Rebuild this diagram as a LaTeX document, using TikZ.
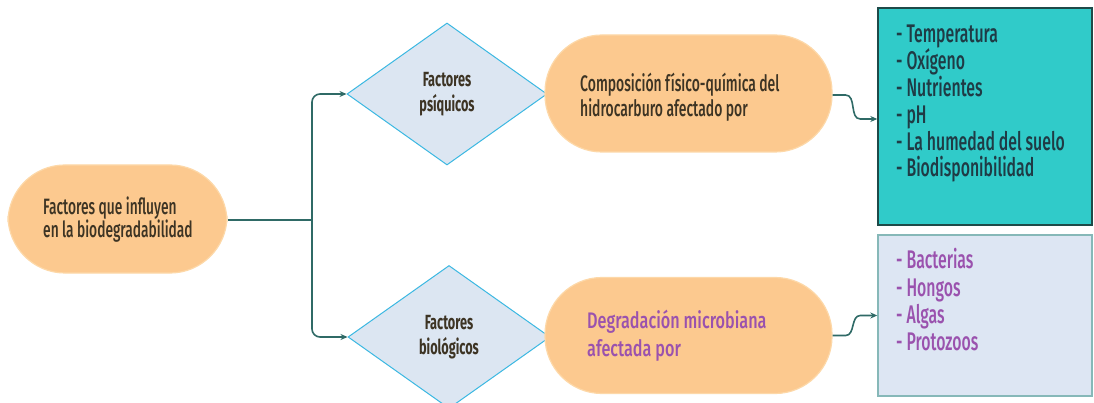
\documentclass[tikz,border=0pt]{standalone}
\usepackage{fontspec}
\setmainfont{Fira Sans}[FakeStretch=0.62, UprightFont={* Medium}, BoldFont={* Bold}]
\newfontfamily\widefont{Fira Sans}[FakeStretch=0.72, UprightFont={* Medium}]
\usetikzlibrary{shapes.geometric,arrows.meta}
\definecolor{pillfill}{HTML}{FCC98F}
\definecolor{pillline}{HTML}{FDD8A8}
\definecolor{diafill}{HTML}{DCE6F2}
\definecolor{dialine}{HTML}{3BB8E2}
\definecolor{tealfill}{HTML}{30CBC9}
\definecolor{tealline}{HTML}{1E4A48}
\definecolor{lightfill}{HTML}{DDE6F3}
\definecolor{lightline}{HTML}{86B8B8}
\definecolor{conncol}{HTML}{2F6A66}
\definecolor{txtdark}{HTML}{3D3424}
\definecolor{txtteal}{HTML}{1F3B45}
\definecolor{txtpurple}{HTML}{9A52AE}
\tikzset{
  pill/.style={draw=pillline, line width=1.2pt, fill=pillfill, rounded corners=57pt, inner sep=0pt},
  pilltxt/.style={anchor=base west, inner sep=0pt, text=txtdark, font=\fontsize{22.5}{25}\selectfont},
  dia/.style={diamond, draw=dialine, line width=1pt, fill=diafill, inner sep=0pt, align=center, text=txtdark, font=\fontsize{20.5}{24.5}\selectfont\bfseries},
  conn/.style={draw=conncol, line width=1.6pt, -{Stealth[length=7pt,width=6pt]}},
  trunk/.style={draw=conncol, line width=1.6pt},
  listtxt/.style={anchor=base west, inner sep=0pt, font=\fontsize{25.5}{27}\selectfont},
}
\begin{document}
\begin{tikzpicture}[x=1pt,y=-1pt]
\useasboundingbox[fill=white] (0,0) rectangle (1094,403);
% left pill
\node[pill, minimum width=219pt, minimum height=108pt] (src) at (117.5,219) {};
\node[pilltxt, font=\fontsize{22.2}{25}\selectfont] (srct1) at (43,215) {Factores que influyen};
\node[pilltxt, font=\fontsize{22.2}{25}\selectfont] (srct2) at (43,237) {en la biodegradabilidad};
% diamonds
\node[dia, minimum width=200pt, minimum height=142pt] (d1) at (447,94) {Factores\\psíquicos};
\node[dia, minimum width=202pt, minimum height=143pt] (d2) at (449,337) {Factores\\biológicos};
% middle pills
\node[pill, minimum width=287pt, minimum height=117pt] (p1) at (688.5,93.5) {};
\node[pilltxt] (p1t1) at (580,92) {Composición físico-química del};
\node[pilltxt] (p1t2) at (580,117) {hidrocarburo afectado por};
\node[pill, minimum width=287pt, minimum height=116pt] (p2) at (688.5,335.5) {};
\node[pilltxt, text=txtpurple, font=\widefont\fontsize{22.5}{25}\selectfont] (p2t1) at (587,328) {Degradación microbiana};
\node[pilltxt, text=txtpurple, font=\widefont\fontsize{22.5}{25}\selectfont] (p2t2) at (587,356) {afectada por};
% boxes
\node[draw=tealline, line width=1.4pt, fill=tealfill, minimum width=214pt, minimum height=217pt, inner sep=0pt] (b1) at (985,116.5) {};
\node[draw=lightline, line width=1.4pt, fill=lightfill, minimum width=214pt, minimum height=161pt, inner sep=0pt] (b2) at (985,315.5) {};
\foreach \t [count=\i] in {- Temperatura,- Oxígeno,- Nutrientes,- pH,- La humedad del suelo,- Biodisponibilidad}
  \node[listtxt, text=txtteal] (la\i) at (896,{43+26.8*(\i-1)}) {\t};
\foreach \t [count=\i] in {- Bacterias,- Hongos,- Algas,- Protozoos}
  \node[listtxt, text=txtpurple] (lb\i) at (896,{269+27.3*(\i-1)}) {\t};
% connectors
\coordinate (br) at (312,220);
\draw[trunk] ([yshift=-1pt]src.east) -- (br);
\draw[conn, rounded corners=8pt] (br) |- (d1.west);
\draw[conn, rounded corners=8pt] (br) |- (d2.west);
\draw[conn] ([yshift=-1.5pt]p1.east) -- ++(13,0) to[out=0,in=180] ([xshift=-17pt,yshift=-2.5pt]b1.west) -- ([yshift=-2.5pt]b1.west);
\draw[conn] (p2.east) -- ++(13,0) to[out=0,in=180] ([xshift=-17pt]b2.west) -- (b2.west);
\end{tikzpicture}
\end{document}
